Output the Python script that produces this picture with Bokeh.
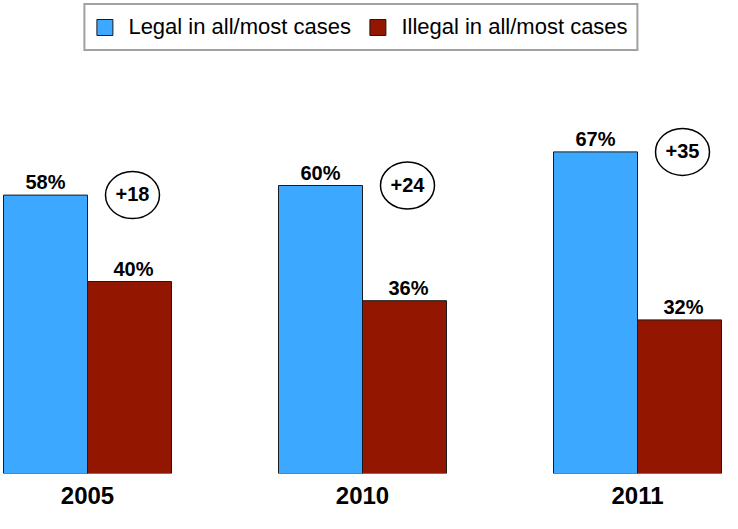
from bokeh.plotting import figure
from bokeh.models import ColumnDataSource, Range1d, FixedTicker, Legend, LegendItem
from bokeh.transform import dodge
from bokeh.embed import file_html
from bokeh.resources import INLINE
from bokeh.core.properties import value

# ---- data ----
years = ["2005", "2010", "2011"]
legal = [58, 60, 67]
illegal = [40, 36, 32]
gaps = [18, 24, 35]
series_names = ["Legal in all/most cases", "Illegal in all/most cases"]

BLUE = "#3DA8FF"
RED = "#921600"
FONT = "Liberation Sans"

xs = list(range(len(years)))
src = ColumnDataSource(dict(
    x=xs,
    legal=legal,
    illegal=illegal,
    legal_lbl=[f"{v}%" for v in legal],
    illegal_lbl=[f"{v}%" for v in illegal],
    gap_lbl=[f"+{g}" for g in gaps],
))

# ---- layout ----
W, H = 722, 513
BOTTOM = 40
PX_PER_X = 275.0
X0 = 87
PX_PER_Y = 4.8
FRAME_H = H - BOTTOM
BW = 84 / PX_PER_X

p = figure(
    width=W, height=H,
    x_range=Range1d(-X0 / PX_PER_X, (W - X0) / PX_PER_X),
    y_range=Range1d(0, FRAME_H / PX_PER_Y),
    output_backend="svg", toolbar_location=None,
    min_border=0, min_border_bottom=BOTTOM, outline_line_color=None,
)

rb = p.vbar(x=dodge("x", -BW / 2), top="legal", width=BW, source=src,
            fill_color=BLUE, line_color="#1a1a1a", line_width=1)
rr = p.vbar(x=dodge("x", BW / 2), top="illegal", width=BW, source=src,
            fill_color=RED, line_color="#1a1a1a", line_width=1)

p.text(x=dodge("x", -BW / 2), y="legal", text="legal_lbl", source=src,
       text_align="center", text_baseline="alphabetic", y_offset=-13,
       text_font=value(FONT), text_font_style="bold", text_font_size="20px",
       text_color="black")
p.text(x=dodge("x", BW / 2), y="illegal", text="illegal_lbl", source=src,
       text_align="center", text_baseline="alphabetic", y_offset=-13, x_offset=4,
       text_font=value(FONT), text_font_style="bold", text_font_size="20px",
       text_color="black")

CX = 45 / PX_PER_X
p.ellipse(x=dodge("x", CX), y="legal", width=54, height=47,
          width_units="screen", height_units="screen", source=src,
          fill_color="white", line_color="black", line_width=1.5)
p.text(x=dodge("x", CX), y="legal", text="gap_lbl", source=src,
       text_align="center", text_baseline="middle", y_offset=-1,
       text_font=value(FONT), text_font_style="bold", text_font_size="20px",
       text_color="black")

# ---- axes ----
p.yaxis.visible = False
p.xgrid.visible = False
p.ygrid.visible = False
xa = p.xaxis[0]
xa.ticker = FixedTicker(ticks=xs)
xa.major_label_overrides = {i: y for i, y in enumerate(years)}
xa.axis_line_color = None
xa.major_tick_line_color = None
xa.minor_tick_line_color = None
xa.major_tick_out = 0
xa.major_tick_in = 0
xa.major_label_standoff = 13
xa.major_label_text_font = FONT
xa.major_label_text_font_style = "bold"
xa.major_label_text_font_size = "24px"
xa.major_label_text_color = "black"

# ---- legend ----
legend = Legend(
    items=[LegendItem(label=series_names[0], renderers=[rb]),
           LegendItem(label=series_names[1], renderers=[rr])],
    orientation="horizontal", location="top", margin=3,
    padding=9, spacing=13, label_standoff=14,
    glyph_width=20, glyph_height=20, label_width=226,
    label_text_font=FONT, label_text_font_size="22px", label_text_color="black",
    border_line_color="#444444", border_line_width=2,
    background_fill_color="white", background_fill_alpha=1.0,
)
p.add_layout(legend)

open("out.html", "w").write(file_html(p, INLINE))
